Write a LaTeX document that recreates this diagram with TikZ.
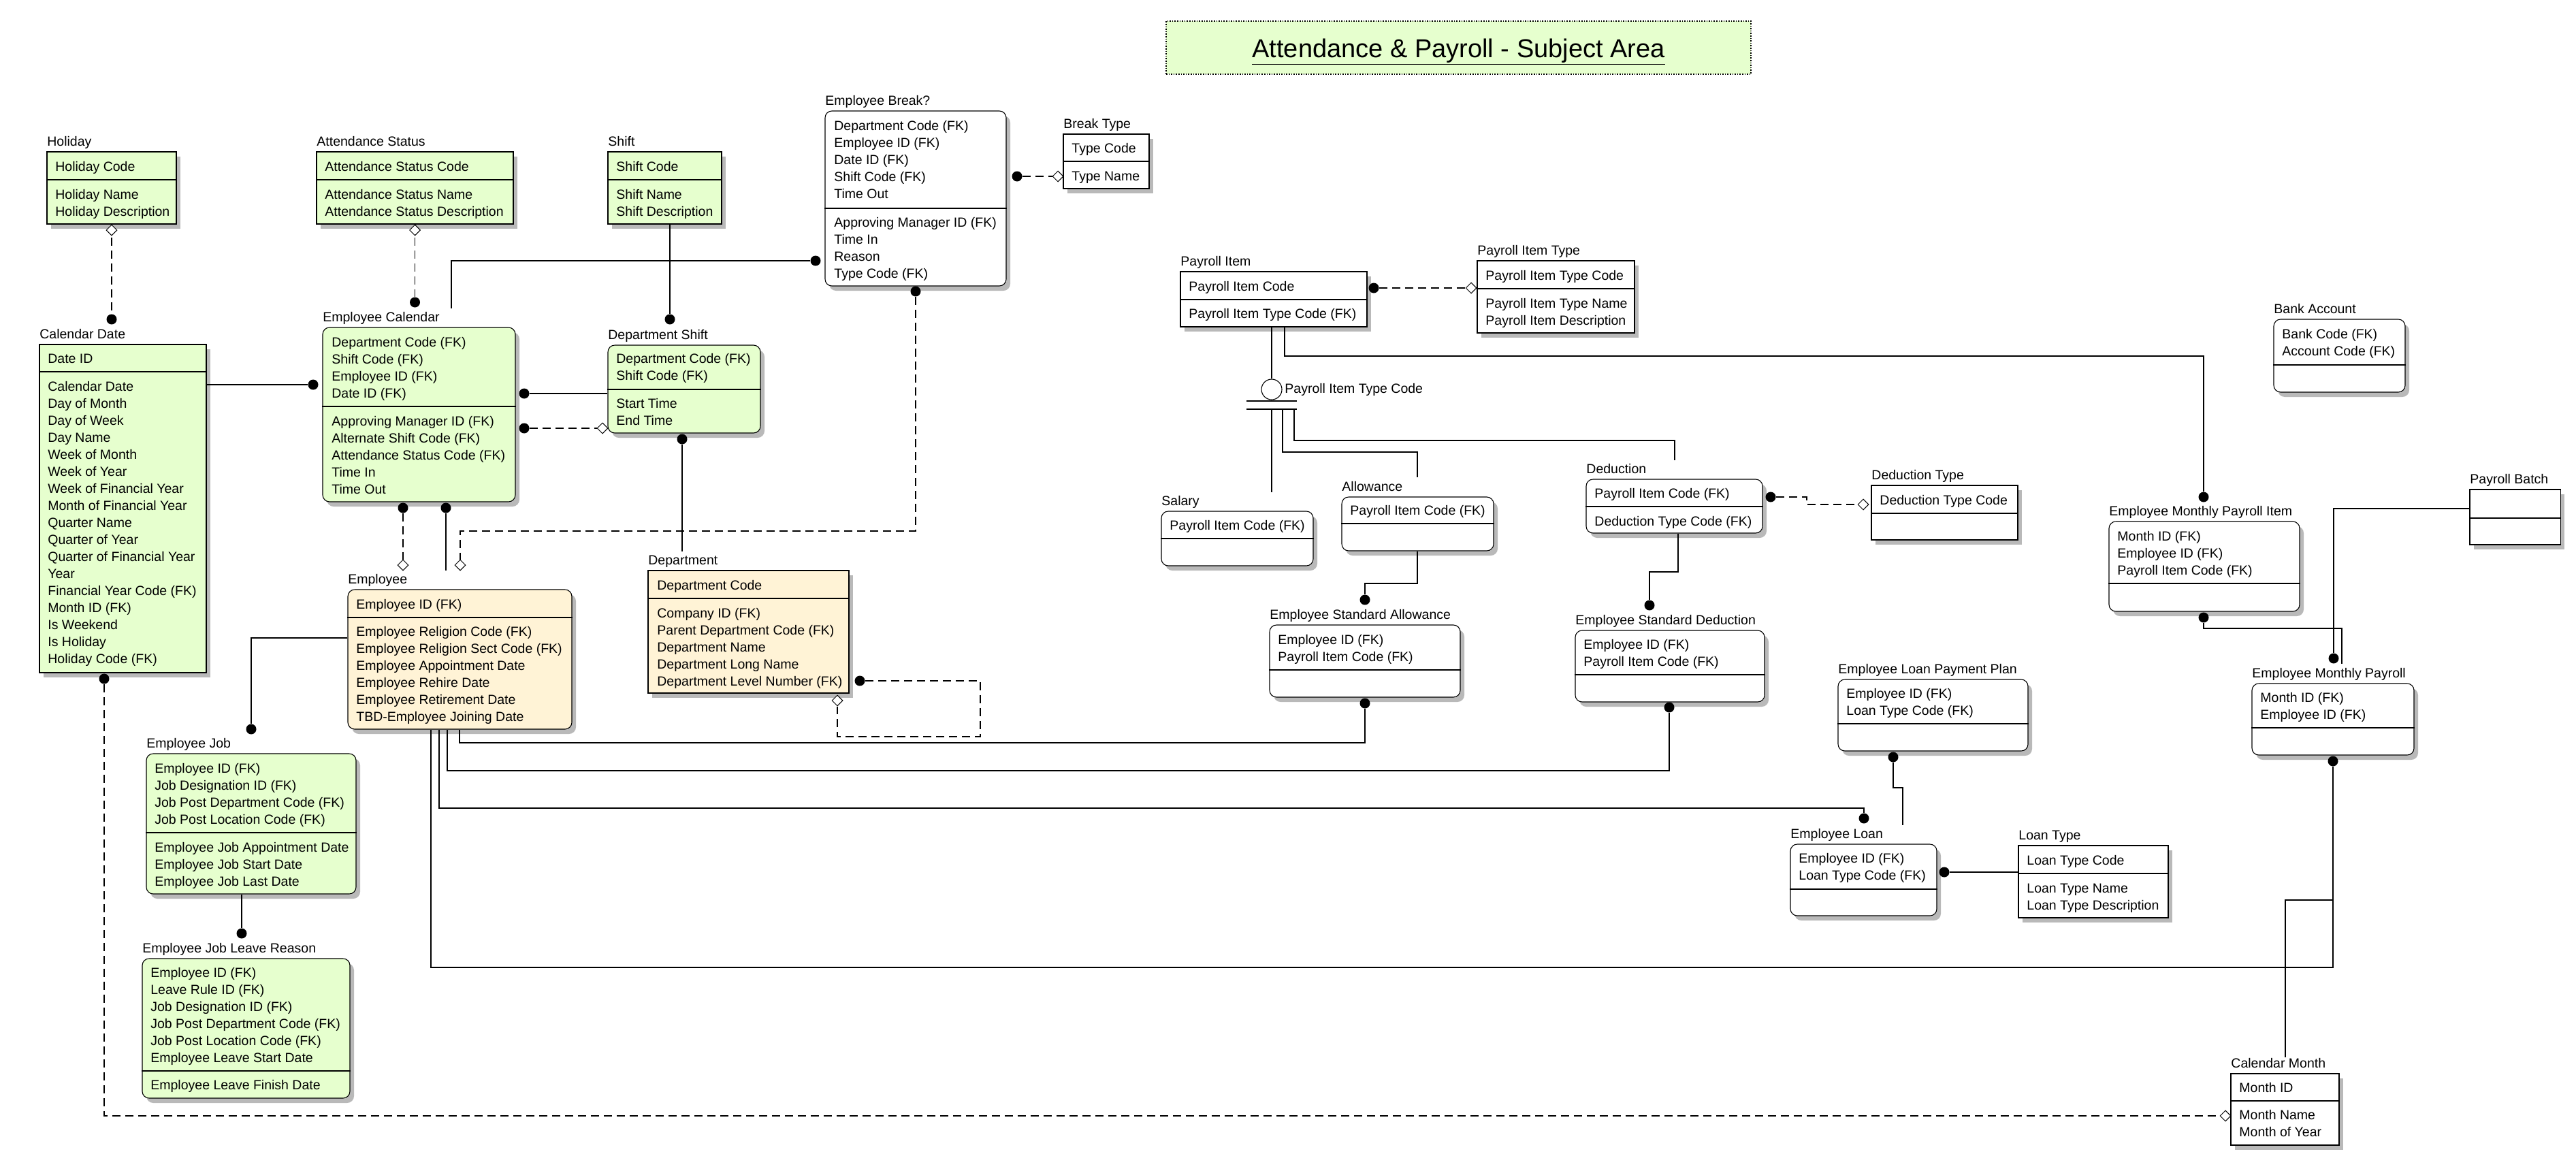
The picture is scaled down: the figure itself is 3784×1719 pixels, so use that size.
\documentclass[tikz,border=0pt]{standalone}
\usepackage{fontspec}
\setmainfont{Liberation Sans}
\usetikzlibrary{fit,shadows,shapes.geometric}
\definecolor{egreen}{RGB}{230,255,206}
\definecolor{eorange}{RGB}{255,243,214}
\tikzset{
  ebox/.style={draw, line width=0.55pt, inner sep=0pt, fill=white,
    drop shadow={shadow xshift=3pt, shadow yshift=-3.5pt, fill=gray!55, opacity=1}},
  rbox/.style={ebox, rounded corners=5pt},
  gfill/.style={fill=egreen},
  ofill/.style={fill=eorange},
  rowtxt/.style={anchor=base west, inner sep=0pt},
  lbl/.style={anchor=base west, inner sep=0pt},
  conn/.style={line width=0.55pt},
  dconn/.style={conn, dash pattern=on 6pt off 3.5pt},
  dotn/.style={circle, fill=black, inner sep=0pt, minimum size=7.5pt},
  dia/.style={diamond, draw, fill=white, line width=0.5pt, inner sep=0pt, minimum width=8pt, minimum height=8pt}
}
\newcommand{\ent}[7]{%
  \node[#6, fit={(#2,#3) (#4,#5)}] (#1) {};
  \node[lbl] (#1-t) at (#2,{#3-9}) {#7};}
\newcommand{\dv}[2]{\draw[conn] (#1.west |- 0,#2) -- (#1.east |- 0,#2);}
\newcommand{\rows}[4]{%
  \foreach \rtx [count=\ri] in {#4} {\node[rowtxt] (#1-#3-\ri) at (#2,{#3+7+(\ri-1)*25}) {\rtx};}}
\begin{document}
\begin{tikzpicture}[x=0.5pt, y=-0.5pt, font=\fontsize{9.75pt}{12.5pt}\selectfont]
\useasboundingbox (0,0) rectangle (3784,1719);

% title
\node[fit={(1713,31) (2572,109)}, draw, densely dotted, line width=0.8pt, fill=egreen, inner sep=0pt] (tbox) {};
\node[anchor=base, inner sep=0pt, font=\fontsize{19pt}{22pt}\selectfont] (ttext) at (tbox.center |- 0,84) {\underline{Attendance \& Payroll - Subject Area}};

% entities
\ent{hol}{69}{223}{259}{329}{ebox,gfill}{Holiday}
\dv{hol}{264}
\rows{hol}{81}{244}{Holiday Code}
\rows{hol}{81}{285}{Holiday Name, Holiday Description}

\ent{ast}{465}{223}{754}{329}{ebox,gfill}{Attendance Status}
\dv{ast}{264}
\rows{ast}{477}{244}{Attendance Status Code}
\rows{ast}{477}{285}{Attendance Status Name, Attendance Status Description}

\ent{shf}{893}{223}{1060}{329}{ebox,gfill}{Shift}
\dv{shf}{264}
\rows{shf}{905}{244}{Shift Code}
\rows{shf}{905}{285}{Shift Name, Shift Description}

\ent{cd}{58}{506}{303}{988}{ebox,gfill}{Calendar Date}
\dv{cd}{546}
\rows{cd}{70}{526}{Date ID}
\rows{cd}{70}{567}{Calendar Date, Day of Month, Day of Week, Day Name, Week of Month, Week of Year, Week of Financial Year, Month of Financial Year, Quarter Name, Quarter of Year, Quarter of Financial Year, Year, Financial Year Code (FK), Month ID (FK), Is Weekend, Is Holiday, Holiday Code (FK)}

\ent{ec}{474}{481}{757}{737}{rbox,gfill}{Employee Calendar}
\dv{ec}{597}
\rows{ec}{487}{502}{Department Code (FK), Shift Code (FK), Employee ID (FK), Date ID (FK)}
\rows{ec}{487}{618}{Approving Manager ID (FK), Alternate Shift Code (FK), Attendance Status Code (FK), Time In, Time Out}

\ent{ds}{893}{507}{1117}{636}{rbox,gfill}{Department Shift}
\dv{ds}{572}
\rows{ds}{905}{526}{Department Code (FK), Shift Code (FK)}
\rows{ds}{905}{592}{Start Time, End Time}

\ent{eb}{1212}{163}{1478}{420}{rbox}{Employee Break?}
\dv{eb}{306}
\rows{eb}{1225}{184}{Department Code (FK), Employee ID (FK), Date ID (FK), Shift Code (FK), Time Out}
\rows{eb}{1225}{326}{Approving Manager ID (FK), Time In, Reason, Type Code (FK)}

\ent{bt}{1562}{197}{1688}{277}{ebox}{Break Type}
\dv{bt}{237}
\rows{bt}{1574}{217}{Type Code}
\rows{bt}{1574}{258}{Type Name}

\ent{emp}{511}{866}{840}{1071}{rbox,ofill}{Employee}
\dv{emp}{907}
\rows{emp}{523}{887}{Employee ID (FK)}
\rows{emp}{523}{927}{Employee Religion Code (FK), Employee Religion Sect Code (FK), Employee Appointment Date, Employee Rehire Date, Employee Retirement Date, TBD-Employee Joining Date}

\ent{dep}{952}{838}{1247}{1018}{ebox,ofill}{Department}
\dv{dep}{879}
\rows{dep}{965}{859}{Department Code}
\rows{dep}{965}{900}{Company ID (FK), Parent Department Code (FK), Department Name, Department Long Name, Department Level Number (FK)}

\ent{ej}{215}{1107}{523}{1313}{rbox,gfill}{Employee Job}
\dv{ej}{1223}
\rows{ej}{227}{1128}{Employee ID (FK), Job Designation ID (FK), Job Post Department Code (FK), Job Post Location Code (FK)}
\rows{ej}{227}{1244}{Employee Job Appointment Date, Employee Job Start Date, Employee Job Last Date}

\ent{ejlr}{209}{1408}{514}{1613}{rbox,gfill}{Employee Job Leave Reason}
\dv{ejlr}{1573}
\rows{ejlr}{221}{1428}{Employee ID (FK), Leave Rule ID (FK), Job Designation ID (FK), Job Post Department Code (FK), Job Post Location Code (FK), Employee Leave Start Date}
\rows{ejlr}{221}{1593}{Employee Leave Finish Date}

\ent{pi}{1734}{399}{2008}{480}{ebox}{Payroll Item}
\dv{pi}{440}
\rows{pi}{1746}{420}{Payroll Item Code}
\rows{pi}{1746}{460}{Payroll Item Type Code (FK)}

\ent{pit}{2170}{383}{2401}{489}{ebox}{Payroll Item Type}
\dv{pit}{424}
\rows{pit}{2182}{404}{Payroll Item Type Code}
\rows{pit}{2182}{445}{Payroll Item Type Name, Payroll Item Description}

\ent{sal}{1706}{751}{1929}{831}{rbox}{Salary}
\dv{sal}{791}
\rows{sal}{1718}{771}{Payroll Item Code (FK)}

\ent{alw}{1971}{730}{2194}{809}{rbox}{Allowance}
\dv{alw}{769}
\rows{alw}{1983}{749}{Payroll Item Code (FK)}

\ent{ded}{2330}{704}{2589}{783}{rbox}{Deduction}
\dv{ded}{744}
\rows{ded}{2342}{724}{Payroll Item Code (FK)}
\rows{ded}{2342}{765}{Deduction Type Code (FK)}

\ent{dt}{2749}{713}{2964}{793}{ebox}{Deduction Type}
\dv{dt}{754}
\rows{dt}{2761}{734}{Deduction Type Code}

\ent{esa}{1865}{918}{2145}{1024}{rbox}{Employee Standard Allowance}
\dv{esa}{984}
\rows{esa}{1877}{939}{Employee ID (FK), Payroll Item Code (FK)}

\ent{esd}{2314}{926}{2592}{1031}{rbox}{Employee Standard Deduction}
\dv{esd}{991}
\rows{esd}{2326}{946}{Employee ID (FK), Payroll Item Code (FK)}

\ent{ba}{3340}{469}{3533}{576}{rbox}{Bank Account}
\dv{ba}{536}
\rows{ba}{3352}{490}{Bank Code (FK), Account Code (FK)}

\ent{pb}{3628}{719}{3761}{800}{ebox}{Payroll Batch}
\dv{pb}{761}

\ent{empi}{3098}{766}{3378}{898}{rbox}{Employee Monthly Payroll Item}
\dv{empi}{857}
\rows{empi}{3110}{787}{Month ID (FK), Employee ID (FK), Payroll Item Code (FK)}

\ent{emr}{3308}{1004}{3546}{1109}{rbox}{Employee Monthly Payroll}
\dv{emr}{1069}
\rows{emr}{3320}{1024}{Month ID (FK), Employee ID (FK)}

\ent{elpp}{2700}{998}{2979}{1103}{rbox}{Employee Loan Payment Plan}
\dv{elpp}{1063}
\rows{elpp}{2712}{1018}{Employee ID (FK), Loan Type Code (FK)}

\ent{el}{2630}{1240}{2845}{1345}{rbox}{Employee Loan}
\dv{el}{1306}
\rows{el}{2642}{1260}{Employee ID (FK), Loan Type Code (FK)}

\ent{lt}{2965}{1242}{3185}{1348}{ebox}{Loan Type}
\dv{lt}{1283}
\rows{lt}{2977}{1263}{Loan Type Code}
\rows{lt}{2977}{1304}{Loan Type Name, Loan Type Description}

\ent{cm}{3277}{1577}{3436}{1682}{ebox}{Calendar Month}
\dv{cm}{1617}
\rows{cm}{3289}{1597}{Month ID}
\rows{cm}{3289}{1637}{Month Name, Month of Year}

% ---------- connectors ----------
% Holiday -> Calendar Date
\node[dotn] (dt-cd1) at (hol.south |- 0,469) {};
\draw[dconn] (hol.south) -- (dt-cd1);
\node[dia] (di-hol) at (hol.south |- 0,338) {};
% Attendance Status -> Employee Calendar
\node[dotn] (dt-ec1) at (ast.south |- 0,444) {};
\draw[dconn] (ast.south) -- (dt-ec1);
\node[dia] (di-ast) at (ast.south |- 0,338) {};
% Shift -> Department Shift
\node[dotn] (dt-ds1) at (984,469) {};
\draw[conn] (984,0 |- shf.south) -- (dt-ds1);
% Calendar Date -> Employee Calendar
\node[dotn] (dt-ec2) at (460,565) {};
\draw[conn] (cd.east |- dt-ec2) -- (dt-ec2);
% Employee Calendar -> Department Shift
\node[dotn] (dt-ec3) at (770,578) {};
\draw[conn] (dt-ec3) -- (ds.west |- dt-ec3);
\node[dotn] (dt-ec4) at (770,629) {};
\node[dia] (di-ds) at (885,629) {};
\draw[dconn] (dt-ec4) -- (di-ds);
% Employee Calendar -> Employee Break
\node[dotn] (dt-eb1) at (1198,383) {};
\draw[conn] (663,453) -- (663,383) -- (dt-eb1);
% Employee Calendar -> Employee
\node[dotn] (dt-ec5) at (592,746) {};
\node[dia] (di-emp1) at (592,830) {};
\draw[dconn] (dt-ec5) -- (di-emp1);
\node[dotn] (dt-ec6) at (655,746) {};
\draw[conn] (dt-ec6) -- (655,838);
% Employee Break -> Employee
\node[dotn] (dt-eb2) at (1345,428) {};
\node[dia] (di-emp2) at (676,830) {};
\draw[dconn] (dt-eb2) -- (1345,780) -- (676,780) -- (di-emp2);
% Employee Break -> Break Type
\node[dotn] (dt-eb3) at (1494,259) {};
\node[dia] (di-bt) at (1554,259) {};
\draw[dconn] (dt-eb3) -- (di-bt);
% Department Shift -> Department
\node[dotn] (dt-ds2) at (1002,645) {};
\draw[conn] (dt-ds2) -- (1002,810);
% Department self relation
\node[dotn] (dt-dep1) at (1263,1000) {};
\node[dia] (di-dep) at (1230,1029) {};
\draw[dconn] (dt-dep1) -- (1440,1000) -- (1440,1082) -- (1230,1082) -- (di-dep);
% Employee -> Employee Job
\node[dotn] (dt-ej1) at (369,1071) {};
\draw[conn] (emp.west |- 0,937) -- (369,937) -- (dt-ej1);
% Employee Job -> Employee Job Leave Reason
\node[dotn] (dt-ejlr) at (355,1371) {};
\draw[conn] (355,0 |- ej.south) -- (dt-ejlr);
% Employee -> Employee Standard Allowance
\node[dotn] (dt-esa1) at (2005,1033) {};
\draw[conn] (675,0 |- emp.south) -- (675,1091) -- (2005,1091) -- (dt-esa1);
% Employee -> Employee Standard Deduction
\node[dotn] (dt-esd1) at (2452,1039) {};
\draw[conn] (657,0 |- emp.south) -- (657,1132) -- (2452,1132) -- (dt-esd1);
% Employee -> Employee Loan
\node[dotn] (dt-el1) at (2738,1202) {};
\draw[conn] (645,0 |- emp.south) -- (645,1187) -- (2738,1187) -- (dt-el1);
% Employee -> Employee Monthly Payroll
\node[dotn] (dt-emr1) at (3427,1118) {};
\draw[conn] (633,0 |- emp.south) -- (633,1421) -- (3427,1421) -- (dt-emr1);
% Calendar Date -> Calendar Month
\node[dotn] (dt-cd2) at (153,997) {};
\node[dia] (di-cm) at (3269,1639) {};
\draw[dconn] (dt-cd2) -- (153,1639) -- (di-cm);
% Calendar Month -> Employee Monthly Payroll
\draw[conn] (3357,0 |- cm-t.north) -- (3357,1322) -- (3427,1322);
% Payroll Item -> Payroll Item Type
\node[dotn] (dt-pi1) at (2018,423) {};
\node[dia] (di-pit) at (2161,423) {};
\draw[dconn] (dt-pi1) -- (di-pit);
% subtype
\node[circle, draw, line width=0.55pt, minimum size=15pt, inner sep=0pt] (stc) at (1868,572) {};
\node[rowtxt] (stc-t) at (1887,577) {Payroll Item Type Code};
\draw[conn] (stc.north |- pi.south) -- (stc.north);
\coordinate (bar1a) at (1831,589); \coordinate (bar1b) at (1905,589);
\coordinate (bar2a) at (1831,601); \coordinate (bar2b) at (1905,601);
\draw[conn] (bar1a) -- (bar1b);
\draw[conn] (bar2a) -- (bar2b);
\draw[conn] (1868,601) -- (1868,723);
\draw[conn] (1884,601) -- (1884,664) -- (2082,664) -- (2082,701);
\draw[conn] (1901,601) -- (1901,647) -- (2460,647) -- (2460,676);
% Payroll Item -> Employee Monthly Payroll Item
\node[dotn] (dt-empi1) at (3237,730) {};
\draw[conn] (1887,0 |- pi.south) -- (1887,523) -- (3237,523) -- (dt-empi1);
% Allowance -> Employee Standard Allowance
\node[dotn] (dt-esa2) at (2005,881) {};
\draw[conn] (2082,0 |- alw.south) -- (2082,857) -- (2005,857) -- (dt-esa2);
% Deduction -> Employee Standard Deduction
\node[dotn] (dt-esd2) at (2423,889) {};
\draw[conn] (2465,0 |- ded.south) -- (2465,840) -- (2423,840) -- (dt-esd2);
% Deduction -> Deduction Type
\node[dotn] (dt-ded1) at (2601,730) {};
\node[dia] (di-dt) at (2737,741) {};
\draw[dconn] (dt-ded1) -- (2654,730) -- (2654,741) -- (di-dt);
% Employee Monthly Payroll Item -> Employee Monthly Payroll
\node[dotn] (dt-empi2) at (3237,907) {};
\draw[conn] (dt-empi2) -- (3237,923) -- (3440,923) -- (3440,975);
% Payroll Batch -> Employee Monthly Payroll
\node[dotn] (dt-emr2) at (3428,967) {};
\draw[conn] (pb.west |- 0,747) -- (3428,747) -- (dt-emr2);
% Employee Loan Payment Plan -> Employee Loan
\node[dotn] (dt-elpp) at (2781,1112) {};
\draw[conn] (dt-elpp) -- (2781,1157) -- (2795,1157) -- (2795,1212);
% Employee Loan -> Loan Type
\node[dotn] (dt-el2) at (2856,1281) {};
\draw[conn] (dt-el2) -- (lt.west |- dt-el2);
\end{tikzpicture}
\end{document}
